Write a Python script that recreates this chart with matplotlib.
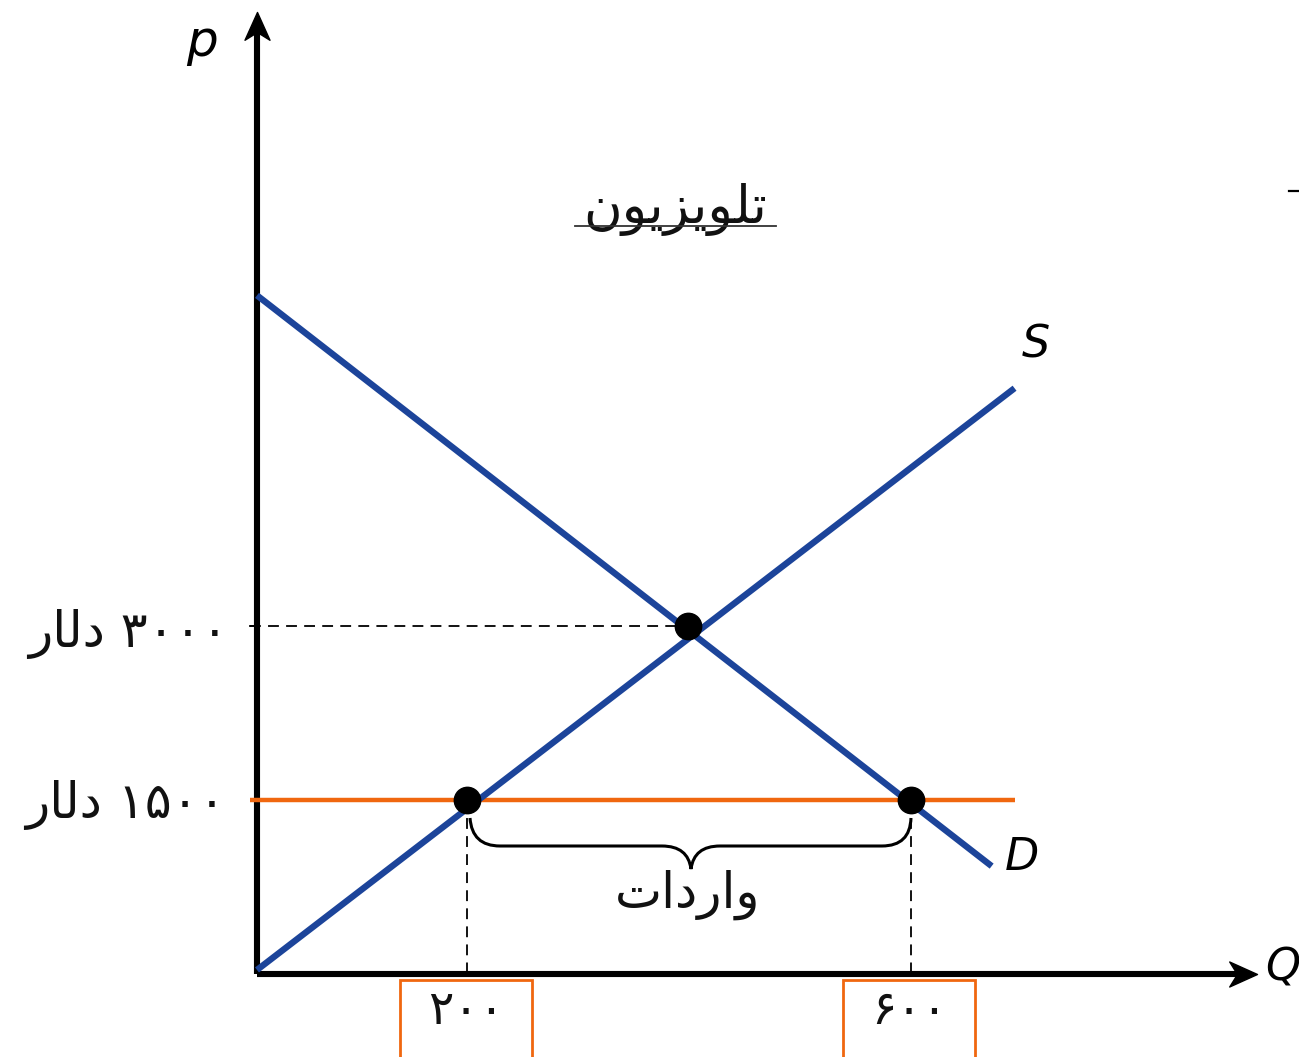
import matplotlib
matplotlib.use("Agg")
import matplotlib.pyplot as plt
from matplotlib.path import Path
from matplotlib.patches import PathPatch, Rectangle

# ---------------- data (schematic units) ----------------
supply_q = [0, 695]
supply_p = [35, 5050]
demand_q = [0, 674]
demand_p = [5850, 930]
world_price = 1500
eq_price = 3000
eq_q = 395
q_domestic = 193      # labelled 200
q_demand = 600        # labelled 600
world_line_q = [-6, 695]
q_tick_labels = ["۲۰۰", "۶۰۰"]
# Persian text in visual (left-to-right) order with presentation forms
price_labels = ["\uFEAD\uFE8E\uFEDF\uFEA9 ۳۰۰۰", "\uFEAD\uFE8E\uFEDF\uFEA9 ۱۵۰۰"]
title_text = "\uFEE5\uFEEE\uFEF3\uFEB0\uFEF3\uFEEE\uFEE0\uFE97"   # تلویزیون
imports_text = "\uFE95\uFE8D\uFEA9\uFEAD\uFE8D\uFEED"             # واردات

BLUE = "#1c449a"
ORANGE = "#f0670f"

W, H = 1299, 1057
X0, XS = 257, 1.09      # pixel of Q=0, px per unit
Y0, YS = 974, 0.116     # pixel of P=0, px per unit

def px(x):
    return (x - X0) / XS

def py(y):
    return (Y0 - y) / YS

fig = plt.figure(figsize=(W / 100, H / 100), dpi=100)
ax = fig.add_axes([0, 0, 1, 1])
ax.set_xlim(px(0), px(W))
ax.set_ylim(py(H), py(0))
ax.axis("off")

# axes with arrows
ax.plot([0, 0], [0, py(30)], color="black", lw=4.4, solid_capstyle="butt", zorder=3)
ax.plot([0, px(1240)], [0, 0], color="black", lw=4.4, solid_capstyle="butt", zorder=3)
up = Path([(0, 0), (-0.45, -1), (0, -0.72), (0.45, -1), (0, 0)],
          [Path.MOVETO, Path.LINETO, Path.LINETO, Path.LINETO, Path.CLOSEPOLY])
right = Path([(0, 0), (-1, 0.45), (-0.72, 0), (-1, -0.45), (0, 0)],
             [Path.MOVETO, Path.LINETO, Path.LINETO, Path.LINETO, Path.CLOSEPOLY])
ax.plot([0], [py(12)], marker=up, markersize=40, color="black", mec="black", zorder=4)
ax.plot([px(1257)], [0], marker=right, markersize=40, color="black", mec="black", zorder=4)

# dashed guide lines
ax.plot([px(250), eq_q], [eq_price, eq_price], color="black", lw=1.3, ls=(0, (6, 4)), zorder=2)
ax.plot([q_domestic, q_domestic], [world_price, 0], color="black", lw=1.3, ls=(0, (6, 4)), zorder=2)
ax.plot([q_demand, q_demand], [world_price, 0], color="black", lw=1.3, ls=(0, (6, 4)), zorder=2)
ax.plot([px(250), 0], [eq_price, eq_price], color="black", lw=1.3, zorder=2)

# supply and demand
ax.plot(supply_q, supply_p, color=BLUE, lw=4.6, solid_capstyle="butt", zorder=5)
ax.plot(demand_q, demand_p, color=BLUE, lw=4.6, solid_capstyle="butt", zorder=5)

# world price
ax.plot(world_line_q, [world_price, world_price], color=ORANGE, lw=3.2,
        solid_capstyle="butt", zorder=4)

# points
ax.plot([q_domestic, eq_q, q_demand], [world_price, eq_price, world_price], "o",
        color="black", markersize=19, zorder=6)

# brace
bv = [(470, 818), (472, 846), (500, 846), (662, 846), (688, 846), (691, 869),
      (694, 846), (720, 846), (882, 846), (910, 846), (911, 818)]
bc = [Path.MOVETO, Path.CURVE3, Path.CURVE3, Path.LINETO, Path.CURVE3, Path.CURVE3,
      Path.CURVE3, Path.CURVE3, Path.LINETO, Path.CURVE3, Path.CURVE3]
brace = Path([(px(x), py(y)) for x, y in bv], bc)
ax.add_patch(PathPatch(brace, fill=False, ec="black", lw=2.2, zorder=5))

# orange boxes around quantity labels
for q, lab, x1, x2 in [(q_domestic, q_tick_labels[0], 400, 532), (q_demand, q_tick_labels[1], 843, 975)]:
    ax.add_patch(Rectangle((px(x1), py(1070)), px(x2) - px(x1), py(980) - py(1070),
                           fill=False, ec=ORANGE, lw=2.0, zorder=3))
    ax.text((px(x1) + px(x2)) / 2, py(1012), lab, fontsize=34, family="DejaVu Sans",
            ha="center", va="center", color="#111111")

# price labels
ax.text(px(228), py(634), price_labels[0], fontsize=36, family="DejaVu Sans",
        ha="right", va="center", color="#111111")
ax.text(px(225), py(805), price_labels[1], fontsize=36, family="DejaVu Sans",
        ha="right", va="center", color="#111111")

# titles / labels
ax.text(px(675), py(210), title_text, fontsize=38, family="DejaVu Sans",
        ha="center", va="center", color="#111111")
ax.plot([px(575), px(776)], [py(226), py(226)], color="#333333", lw=1.3, zorder=6)
ax.text(px(688), py(895), imports_text, fontsize=36, family="DejaVu Sans",
        ha="center", va="center", color="#111111")

ax.text(px(202), py(42), "p", fontsize=36, style="italic", family="DejaVu Sans",
        ha="center", va="center")
ax.text(px(1283), py(968), "Q", fontsize=32, style="italic", family="DejaVu Sans",
        ha="center", va="center")
ax.text(px(1036), py(345), "S", fontsize=32, style="italic", family="DejaVu Sans",
        ha="center", va="center")
ax.text(px(1022), py(858), "D", fontsize=32, style="italic", family="DejaVu Sans",
        ha="center", va="center")

# stray mark at right edge
ax.plot([px(1289), px(1299)], [py(191), py(191)], color="black", lw=1.6)

fig.savefig("out.png", dpi=100)
